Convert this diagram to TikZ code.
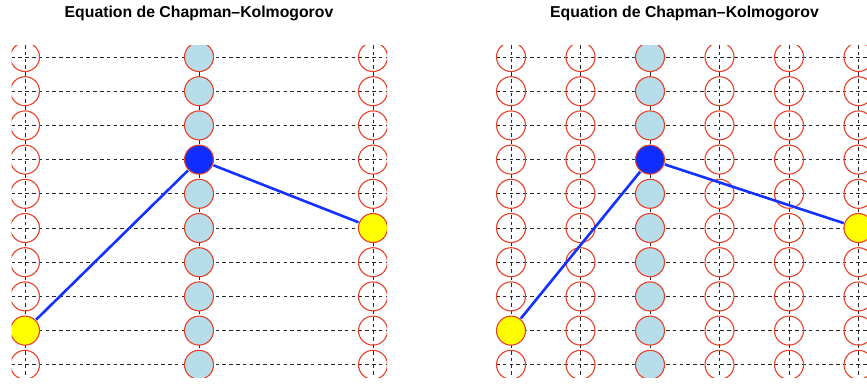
\documentclass[tikz,border=0pt]{standalone}
\usepackage{fontspec}
\setmainfont{Liberation Sans}
\definecolor{ringred}{RGB}{232,64,40}
\definecolor{lblue}{RGB}{184,221,234}
\definecolor{dblue}{RGB}{15,45,255}
\definecolor{lineblue}{RGB}{20,50,255}
\definecolor{yel}{RGB}{255,255,0}
\begin{document}
\begin{tikzpicture}[x=1pt,y=-1pt,
  gridline/.style={draw=black!85, line width=0.9pt, dash pattern=on 3.6pt off 3.2pt},
  emptyc/.style={circle, draw=ringred, line width=1.1pt, minimum size=29pt, inner sep=0pt},
  lbc/.style={emptyc, fill=lblue},
  curc/.style={emptyc, fill=dblue},
  yelc/.style={emptyc, fill=yel},
  link/.style={draw=lineblue, line width=2.6pt, shorten >=0.5pt, shorten <=0.5pt},
  ttl/.style={font=\fontsize{15.8}{19}\selectfont\bfseries, anchor=base}]
\useasboundingbox (0,0) rectangle (867,384);
% ---------- left panel ----------
\node[ttl] (t1) at (199,17.3) {Equation de Chapman\textendash Kolmogorov};
\begin{scope}
  \clip (11.5,45) rectangle (387,377);
  \foreach \i in {0,...,9} \draw[gridline] (11.5,{57+34.2*\i}) -- (387,{57+34.2*\i});
  \foreach \x in {25,199,373} \draw[gridline] (\x,45) -- (\x,377);
  \foreach \i in {0,...,9}{
    \ifnum\i=8 \def\st{yelc}\else\def\st{emptyc}\fi
    \node[\st] (La\i) at (25,{57+34.2*\i}) {};
    \ifnum\i=3 \def\st{curc}\else\def\st{lbc}\fi
    \node[\st] (Lb\i) at (199,{57+34.2*\i}) {};
    \ifnum\i=5 \def\st{yelc}\else\def\st{emptyc}\fi
    \node[\st] (Lc\i) at (373,{57+34.2*\i}) {};
  }
  \draw[link] (La8) -- (Lb3);
  \draw[link] (Lb3) -- (Lc5);
\end{scope}
% ---------- right panel ----------
\node[ttl] (t2) at (684.5,17.3) {Equation de Chapman\textendash Kolmogorov};
\begin{scope}
  \clip (496,45) rectangle (867,377);
  \foreach \i in {0,...,9} \draw[gridline] (496,{57+34.2*\i}) -- (867,{57+34.2*\i});
  \foreach \x in {511,580.5,650,719.5,789,858.5} \draw[gridline] (\x,45) -- (\x,377);
  \foreach \i in {0,...,9}{
    \ifnum\i=8 \def\st{yelc}\else\def\st{emptyc}\fi
    \node[\st] (Ra\i) at (511,{57+34.2*\i}) {};
    \node[emptyc] (Rb\i) at (580.5,{57+34.2*\i}) {};
    \ifnum\i=3 \def\st{curc}\else\def\st{lbc}\fi
    \node[\st] (Rc\i) at (650,{57+34.2*\i}) {};
    \node[emptyc] (Rd\i) at (719.5,{57+34.2*\i}) {};
    \node[emptyc] (Re\i) at (789,{57+34.2*\i}) {};
    \ifnum\i=5 \def\st{yelc}\else\def\st{emptyc}\fi
    \node[\st] (Rf\i) at (858.5,{57+34.2*\i}) {};
  }
  \draw[link] (Ra8) -- (Rc3);
  \draw[link] (Rc3) -- (Rf5);
\end{scope}
\end{tikzpicture}
\end{document}
